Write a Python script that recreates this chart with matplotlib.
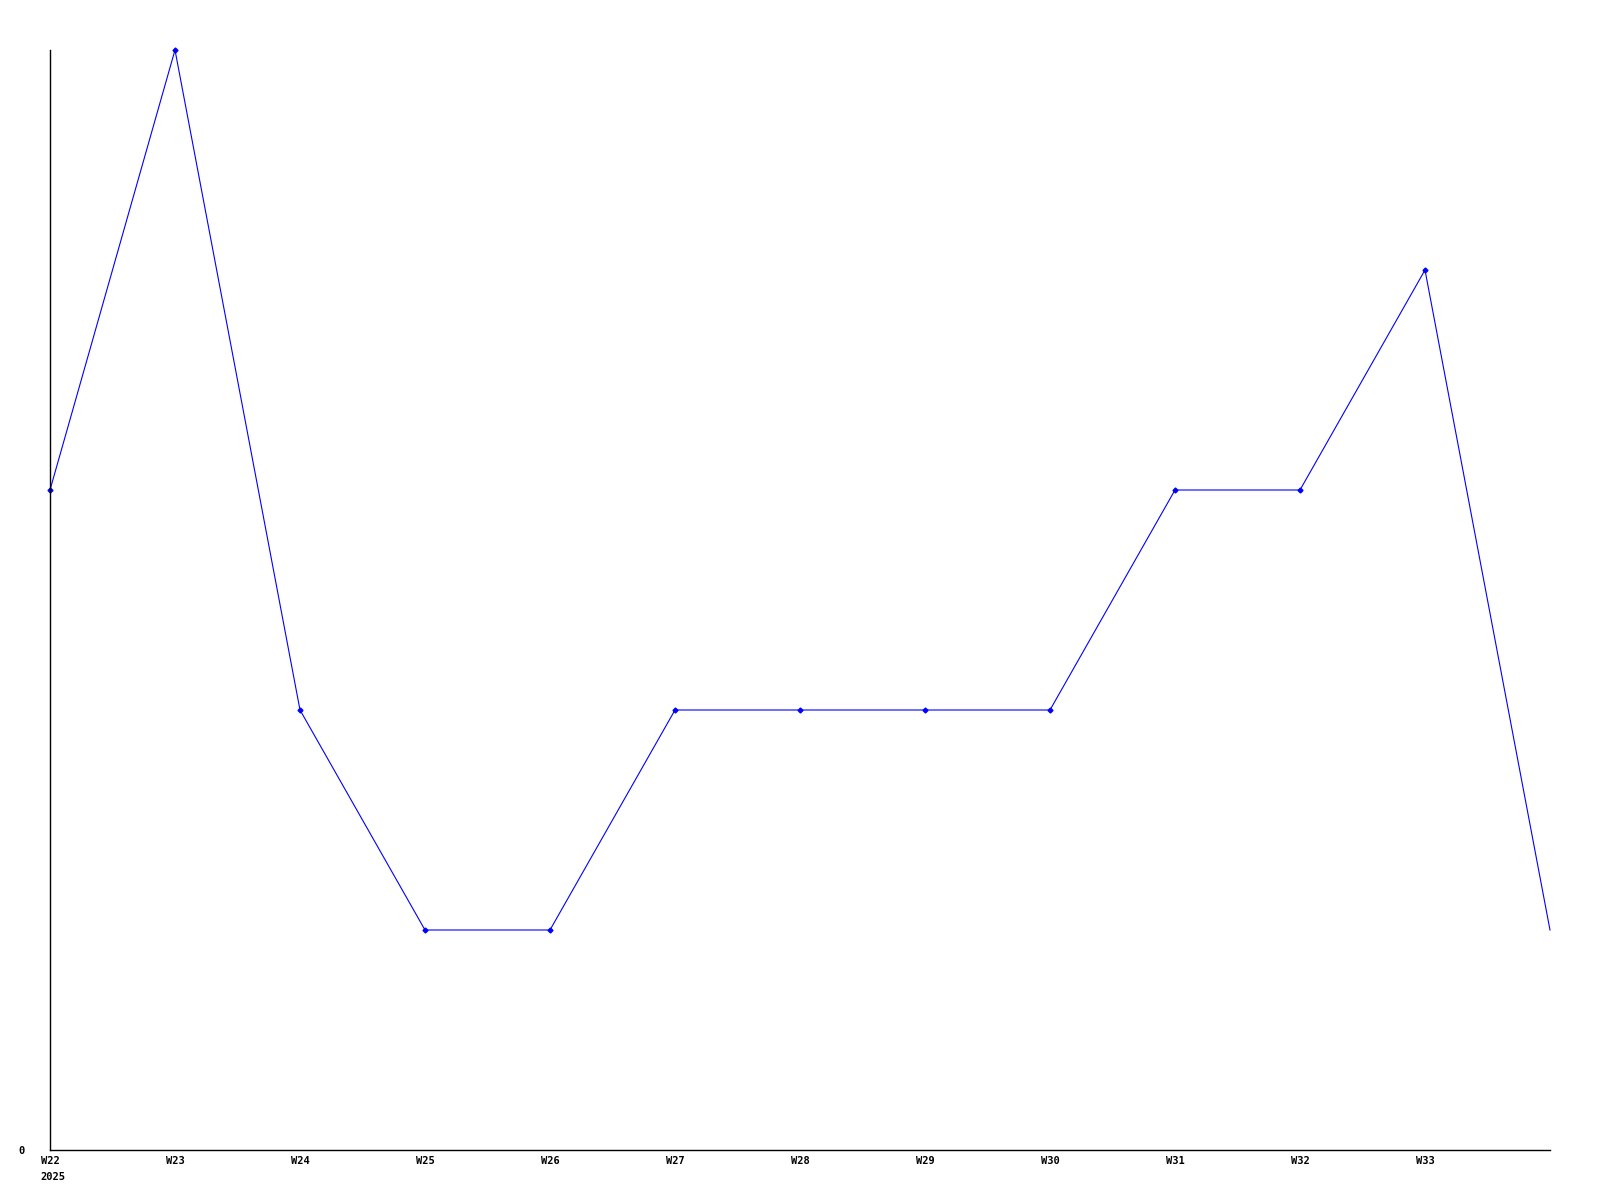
import matplotlib
matplotlib.use("Agg")
import matplotlib.pyplot as plt

weeks = ["W22", "W23", "W24", "W25", "W26", "W27", "W28", "W29", "W30", "W31", "W32", "W33", "W34"]
values = [3, 5, 2, 1, 1, 2, 2, 2, 2, 3, 3, 4, 1]
year_label = "2025"

W, H = 1600, 1200
fig = plt.figure(figsize=(16, 12), dpi=100)
ax = fig.add_axes([50 / W, 50 / H, 1500 / W, 1100 / H])

x = list(range(len(weeks)))
ax.plot(x, values, color="#0000FF", linewidth=0.8, marker="D", markersize=2.5,
        markerfacecolor="#0000FF", markeredgecolor="#0000FF",
        markevery=list(range(len(weeks) - 1)), clip_on=False)

ax.set_xlim(0, len(weeks) - 1)
ax.set_ylim(0, max(values))

font = dict(family="DejaVu Sans Mono", weight="bold", size=7.5)
ax.set_xticks(x[:-1])
ax.set_xticklabels(weeks[:-1], **font)
ax.set_yticks([0])
ax.set_yticklabels(["0"], **font)
ax.tick_params(axis="x", length=0, pad=4)
ax.tick_params(axis="y", length=0, pad=18)

ax.annotate(year_label, xy=(0, 0), xycoords=("data", "axes fraction"),
            xytext=(-10, -27), textcoords="offset pixels", ha="left", va="center",
            annotation_clip=False, **font)

for s in ["top", "right"]:
    ax.spines[s].set_visible(False)
for s in ["left", "bottom"]:
    ax.spines[s].set_color("black")
    ax.spines[s].set_linewidth(1.0)

fig.savefig("out.png", dpi=100, facecolor="white")
